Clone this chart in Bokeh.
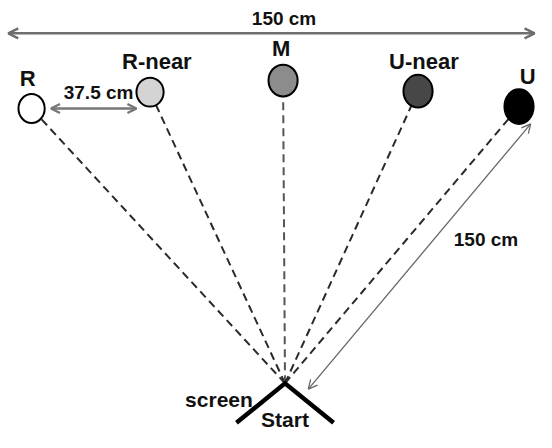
import numpy as np
from bokeh.plotting import figure
from bokeh.models import Range1d, Arrow, OpenHead, ColumnDataSource
from bokeh.core.properties import value
from bokeh.embed import file_html
from bokeh.resources import INLINE

# ---- diagram data (positions, in picture pixels) ----
labels = ["R", "R-near", "M", "U-near", "U"]
target_x = [32, 154, 291, 430, 534]
target_y = [112, 95, 83, 94, 110]
target_w = [27, 28, 30, 30, 30]
target_h = [30, 30, 33, 34, 36]
target_fill = ["#ffffff", "#d4d4d4", "#8c8c8c", "#474747", "#000000"]
line_colors = ["#2a2a2a", "#2a2a2a", "#555555", "#2a2a2a", "#2a2a2a"]
label_x = [28, 161, 289, 436, 543]
label_y = [81, 63, 50, 63, 79]

start_x, start_y = 293, 397            # apex of the screen chevron
screen_arm = [(243, 438), (343, 438)]  # chevron arm ends

width_arrow = dict(x0=8, x1=550, y=34, text="150 cm", tx=292, ty=19)
near_arrow = dict(x0=52, x1=140, y=112, text="37.5 cm", tx=101, ty=95)
dist_arrow = dict(x0=317, y0=403, x1=546, y1=128, text="150 cm", tx=500, ty=248)

FONT = value("Liberation Sans")

p = figure(width=536, height=432, x_range=Range1d(0, 552), y_range=Range1d(448, 0),
           output_backend="svg", toolbar_location=None, min_border=0,
           x_axis_type=None, y_axis_type=None, outline_line_color=None,
           background_fill_color="white", border_fill_color="white")
p.grid.visible = False

# dashed sight lines from start to each target edge
tx = np.array(target_x, float)
ty = np.array(target_y, float)
dx = tx - start_x
dy = ty - start_y
ang = np.arctan2(dy, dx)
rw = np.array(target_w) / 2.0
rh = np.array(target_h) / 2.0
r_edge = 1.0 / np.sqrt((np.cos(ang) / rw) ** 2 + (np.sin(ang) / rh) ** 2)
ex = tx - r_edge * np.cos(ang)
ey = ty - r_edge * np.sin(ang)
p.segment(x0=[start_x] * 5, y0=[start_y] * 5, x1=ex, y1=ey,
          line_color=line_colors, line_width=2, line_dash="8 5")

# distance arrow (150 cm) toward U
p.add_layout(Arrow(x_start=dist_arrow["x0"], y_start=dist_arrow["y0"],
                   x_end=dist_arrow["x1"], y_end=dist_arrow["y1"],
                   line_color="#666666", line_width=1.3,
                   start=OpenHead(size=9, line_color="#666666", line_width=1.3),
                   end=OpenHead(size=9, line_color="#666666", line_width=1.3)))

# targets
src = ColumnDataSource(dict(x=target_x, y=target_y, w=target_w, h=target_h, fill=target_fill))
p.ellipse(x="x", y="y", width="w", height="h", source=src, fill_color="fill",
          line_color="black", line_width=2)

# labels of targets
lsrc = ColumnDataSource(dict(x=label_x, y=label_y, t=labels))
p.text(x="x", y="y", text="t", source=lsrc, text_font=FONT, text_font_style="bold",
       text_font_size="22px", text_align="center", text_baseline="middle", text_color="#111111")

# top width arrow
p.add_layout(Arrow(x_start=width_arrow["x0"], y_start=width_arrow["y"],
                   x_end=width_arrow["x1"], y_end=width_arrow["y"],
                   line_color="#6e6e6e", line_width=2.5,
                   start=OpenHead(size=10, line_color="#6e6e6e", line_width=2.5),
                   end=OpenHead(size=10, line_color="#6e6e6e", line_width=2.5)))
# 37.5 cm arrow
p.add_layout(Arrow(x_start=near_arrow["x0"], y_start=near_arrow["y"],
                   x_end=near_arrow["x1"], y_end=near_arrow["y"],
                   line_color="#777777", line_width=2.5,
                   start=OpenHead(size=9, line_color="#777777", line_width=2.5),
                   end=OpenHead(size=9, line_color="#777777", line_width=2.5)))

texts_x = [width_arrow["tx"], near_arrow["tx"], dist_arrow["tx"]]
texts_y = [width_arrow["ty"], near_arrow["ty"], dist_arrow["ty"]]
texts_t = [width_arrow["text"], near_arrow["text"], dist_arrow["text"]]
p.text(x=texts_x, y=texts_y, text=texts_t, text_font=FONT, text_font_style="bold",
       text_font_size="19px", text_align="center", text_baseline="middle", text_color="#111111")

# screen chevron
p.line(x=[screen_arm[0][0], start_x, screen_arm[1][0]],
       y=[screen_arm[0][1], start_y, screen_arm[1][1]],
       line_color="black", line_width=4.5, line_join="miter")
p.text(x=[225, 293], y=[414, 434], text=["screen", "Start"], text_font=FONT,
       text_font_style="bold", text_font_size="21px", text_align="center",
       text_baseline="middle", text_color="#111111")

open("out.html", "w").write(file_html(p, INLINE))
